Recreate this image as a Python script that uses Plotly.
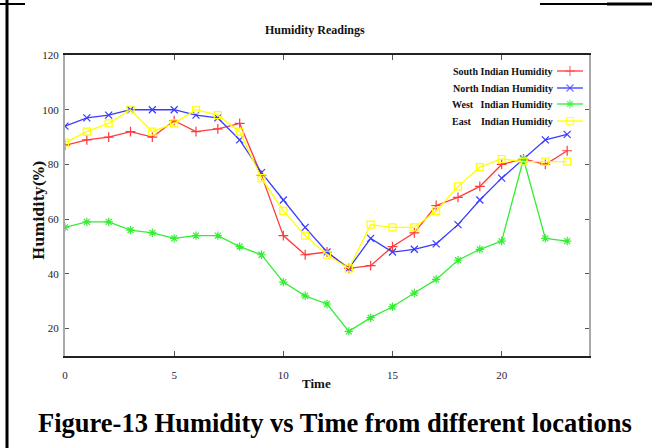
import plotly.graph_objects as go

hours = list(range(24))
south = [87, 89, 90, 92, 90, 96, 92, 93, 95, 76, 54, 47, 48, 42, 43, 50, 55, 65, 68, 72, 80, 82, 80, 85]
north = [94, 97, 98, 100, 100, 100, 98, 97, 89, 77, 67, 57, 48, 42, 53, 48, 49, 51, 58, 67, 75, 82, 89, 91]
west = [57, 59, 59, 56, 55, 53, 54, 54, 50, 47, 37, 32, 29, 19, 24, 28, 33, 38, 45, 49, 52, 82, 53, 52]
east = [88, 92, 95, 100, 92, 95, 100, 98, 92, 75, 63, 54, 47, 42, 58, 57, 57, 63, 72, 79, 82, 81, 81, 81]

names = ["South Indian Humidity", "North Indian Humidity", "West   Indian Humidity", "East    Indian Humidity"]
colors = ["#ff3b3b", "#3b3bff", "#33ee33", "#ffff00"]
symbols = ["cross-thin", "x-thin", "asterisk", "square-open"]
series = [south, north, west, east]

x_ticks = [0, 5, 10, 15, 20]
y_ticks = [20, 40, 60, 80, 100, 120]

# plot area in pixels
L, R, T, B = 65, 589, 55, 356
W, H = 652, 448
pw, ph = R - L, B - T

def px_x(p):
    return (p - L) / pw

def px_y(p):
    return (B - p) / ph

fig = go.Figure()
for name, col, sym, ys in zip(names, colors, symbols, series):
    fig.add_trace(go.Scatter(
        x=hours, y=ys, mode="lines+markers", name=name,
        line=dict(color=col, width=1.3),
        marker=dict(symbol=sym, size=7, color=col, line=dict(color=col, width=1.2)),
        showlegend=False,
    ))

# manual legend: text right-aligned, sample on the right
leg_rows = [71, 88, 104, 121]
for name, col, sym, row in zip(names, colors, symbols, leg_rows):
    yy = px_y(row)
    fig.add_trace(go.Scatter(
        x=[px_x(557), px_x(570), px_x(583)], y=[yy, yy, yy],
        xaxis="x2", yaxis="y2", mode="lines+markers",
        line=dict(color=col, width=1.3),
        marker=dict(symbol=sym, size=[0, 7, 0], color=col, line=dict(color=col, width=1.2)),
        showlegend=False, hoverinfo="skip",
    ))
    fig.add_annotation(
        x=px_x(555), y=yy, xref="x2", yref="y2", text="<b>" + name.replace(" ", "&nbsp;") + "</b>",
        showarrow=False, xanchor="right", yanchor="middle",
        font=dict(family="Liberation Serif", size=10, color="#111111"),
    )

fig.update_layout(
    width=W, height=H,
    margin=dict(l=L, r=W - R, t=T, b=H - B),
    paper_bgcolor="white", plot_bgcolor="white",
    xaxis=dict(range=[0, 24], tickvals=x_ticks, ticks="inside", ticklen=5, tickcolor="#555555",
               showgrid=False, zeroline=False, showline=True, linecolor="#222222", linewidth=1.5,
               mirror="allticks", ticklabelstandoff=8,
               tickfont=dict(family="Liberation Serif", size=11, color="#222244")),
    yaxis=dict(range=[10, 120], tickvals=y_ticks, ticks="inside", ticklen=4, tickcolor="#555555",
               showgrid=False, zeroline=False, showline=True, linecolor="#aaaaaa", linewidth=2,
               mirror="allticks", ticklabelstandoff=2,
               tickfont=dict(family="Liberation Serif", size=11, color="#222222")),
    xaxis2=dict(range=[0, 1], overlaying="x", visible=False),
    yaxis2=dict(range=[0, 1], overlaying="y", visible=False),
    showlegend=False,
)

def label(text, cx, cy, family, size, angle=0, color="#111111"):
    fig.add_annotation(x=px_x(cx), y=px_y(cy), xref="paper", yref="paper",
                       text=text, showarrow=False, textangle=angle,
                       xanchor="center", yanchor="middle",
                       font=dict(family=family, size=size, color=color))

label("<b>Humidity Readings</b>", 315, 30, "Liberation Serif", 12)
label("<b>Time</b>", 316, 383, "Liberation Serif", 13)
label("<b>Humidity(%)</b>", 39, 210, "DejaVu Serif", 14, angle=-90)
label("<b>Figure-13 Humidity vs Time from different locations</b>", 335, 423, "Liberation Serif", 26.5, color="#000000")

# page frame lines
fig.add_shape(type="line", xref="paper", yref="paper", x0=px_x(7), x1=px_x(7), y0=px_y(0), y1=px_y(448),
              line=dict(color="black", width=3))
fig.add_shape(type="line", xref="paper", yref="paper", x0=px_x(0), x1=px_x(25), y0=px_y(4), y1=px_y(4),
              line=dict(color="black", width=2))
fig.add_shape(type="line", xref="paper", yref="paper", x0=px_x(540), x1=px_x(607), y0=px_y(4), y1=px_y(4),
              line=dict(color="black", width=2))
fig.add_shape(type="line", xref="paper", yref="paper", x0=px_x(607), x1=px_x(652), y0=px_y(4), y1=px_y(4),
              line=dict(color="black", width=3))

fig.write_html("out.html")
